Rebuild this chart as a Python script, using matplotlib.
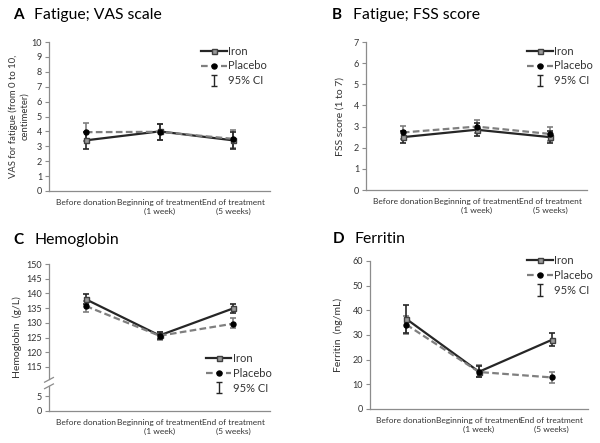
import numpy as np
import matplotlib
matplotlib.use('Agg')
import matplotlib.pyplot as plt

plt.rcParams['font.family'] = ['Lato', 'DejaVu Sans']

# Data
timepoints = ['Before donation', 'Beginning of treatment\n(1 week)', 'End of treatment\n(5 weeks)']

vas_iron = [3.4, 4.0, 3.4]
vas_iron_lo = [2.85, 3.45, 2.85]
vas_iron_hi = [3.95, 4.5, 3.95]
vas_placebo = [3.95, 3.97, 3.5]
vas_placebo_lo = [3.35, 3.42, 2.9]
vas_placebo_hi = [4.55, 4.52, 4.12]

fss_iron = [2.5, 2.85, 2.5]
fss_iron_lo = [2.22, 2.55, 2.2]
fss_iron_hi = [2.78, 3.15, 2.8]
fss_placebo = [2.72, 3.0, 2.65]
fss_placebo_lo = [2.42, 2.68, 2.32]
fss_placebo_hi = [3.02, 3.32, 3.0]

hb_iron = [138.0, 125.7, 134.9]
hb_iron_lo = [136.3, 124.5, 133.3]
hb_iron_hi = [139.8, 126.9, 136.5]
hb_placebo = [135.7, 125.6, 129.7]
hb_placebo_lo = [133.7, 124.1, 128.1]
hb_placebo_hi = [137.4, 127.0, 131.5]

fer_iron = [36.5, 15.1, 28.0]
fer_iron_lo = [31.0, 13.1, 25.7]
fer_iron_hi = [42.0, 17.6, 30.7]
fer_placebo = [34.2, 15.0, 12.8]
fer_placebo_lo = [30.4, 13.0, 10.7]
fer_placebo_hi = [37.8, 17.8, 15.1]

IRON_C = '#262626'
PLAC_C = '#7f7f7f'
SPINE_C = '#8c8c8c'
TEXT_C = '#333333'

fig = plt.figure(figsize=(6, 4.43), dpi=100)


def draw(ax, iron, ilo, ihi, plac, plo, phi, shift=0.0):
    x = np.arange(len(timepoints))
    iron = np.array(iron) - shift
    plac = np.array(plac) - shift
    ilo = np.array(ilo) - shift
    ihi = np.array(ihi) - shift
    plo = np.array(plo) - shift
    phi = np.array(phi) - shift
    ax.errorbar(x, plac, yerr=[plac - plo, phi - plac], fmt='none', ecolor=PLAC_C,
                elinewidth=1.2, capsize=2.5, capthick=1.2, zorder=2)
    ax.errorbar(x, iron, yerr=[iron - ilo, ihi - iron], fmt='none', ecolor=IRON_C,
                elinewidth=1.2, capsize=2.5, capthick=1.2, zorder=2)
    ax.plot(x, iron, color=IRON_C, lw=1.6, marker='s', ms=3.6, mfc='#9a9a9a',
            mec='#404040', mew=1, zorder=3, label='Iron')
    ax.plot(x, plac, color=PLAC_C, lw=1.6, ls=(0, (3, 1.5)), marker='o', ms=3.6,
            mfc='black', mec='black', zorder=4, label='Placebo')
    # legend-only handle for the CI symbol
    ax.errorbar([np.nan], [np.nan], yerr=[1], fmt='none', ecolor=IRON_C, elinewidth=1,
                capsize=2.5, capthick=1, label='95% CI')
    ax.set_xlim(-0.5, 2.5)
    ax.set_xticks(x)
    ax.set_xticklabels(timepoints, fontsize=6, color=TEXT_C, linespacing=1.25)
    ax.tick_params(axis='x', length=0, pad=6)
    ax.tick_params(axis='y', labelsize=6.5, labelcolor=TEXT_C, color=SPINE_C,
                   length=3, width=0.8, pad=2)
    for s in ['top', 'right']:
        ax.spines[s].set_visible(False)
    for s in ['left', 'bottom']:
        ax.spines[s].set_color(SPINE_C)
        ax.spines[s].set_linewidth(0.9)


def add_legend(ax, anchor):
    ax.legend(loc='upper left', bbox_to_anchor=anchor, frameon=False, fontsize=8,
              labelcolor=TEXT_C, handlelength=2.3, handletextpad=0.1,
              labelspacing=0.35, borderpad=0, borderaxespad=0)


def panel_title(x, y, letter, text):
    fig.text(x, 1 - y / 443, letter, fontsize=11, fontweight='bold', va='center', ha='left')
    fig.text(x + 21 / 600, 1 - y / 443, text, fontsize=11.3, va='center', ha='left')


# A: VAS
axA = fig.add_axes([49 / 600, 1 - 191 / 443, 221 / 600, 149 / 443])
draw(axA, vas_iron, vas_iron_lo, vas_iron_hi, vas_placebo, vas_placebo_lo, vas_placebo_hi)
axA.set_ylim(0, 10)
axA.set_yticks(range(0, 11))
axA.set_ylabel('VAS for fatigue (from 0 to 10,\ncentimeter)', fontsize=6.8, color=TEXT_C,
               labelpad=2, linespacing=1.3)
add_legend(axA, (0.69, 0.976))
panel_title(13 / 600, 15, 'A', 'Fatigue; VAS scale')

# B: FSS
axB = fig.add_axes([366 / 600, 1 - 190 / 443, 221 / 600, 148 / 443])
draw(axB, fss_iron, fss_iron_lo, fss_iron_hi, fss_placebo, fss_placebo_lo, fss_placebo_hi)
axB.set_ylim(0, 7)
axB.set_yticks(range(0, 8))
axB.set_ylabel('FSS score (1 to 7)', fontsize=7.5, color=TEXT_C, labelpad=7)
add_legend(axB, (0.73, 0.976))
panel_title(332 / 600, 15, 'B', 'Fatigue; FSS score')

# C: Hemoglobin with broken axis (values shifted by 100 above the break)
axC = fig.add_axes([49 / 600, 1 - 411 / 443, 221 / 600, 147 / 443])
draw(axC, hb_iron, hb_iron_lo, hb_iron_hi, hb_placebo, hb_placebo_lo, hb_placebo_hi, shift=100)
axC.set_ylim(0, 50)
axC.set_yticks([0, 5] + list(range(15, 51, 5)))
axC.set_yticklabels(['0', '5'] + [str(v) for v in range(115, 151, 5)])
axC.spines['left'].set_visible(False)
ytr = axC.get_yaxis_transform()
axC.plot([0, 0], [0, 8.6], transform=ytr, color=SPINE_C, lw=0.9, clip_on=False)
axC.plot([0, 0], [10.9, 50], transform=ytr, color=SPINE_C, lw=0.9, clip_on=False)
axC.plot([-0.02, 0.02], [9.8, 11.4], transform=ytr, color=SPINE_C, lw=0.9, clip_on=False)
axC.plot([-0.02, 0.02], [7.6, 9.2], transform=ytr, color=SPINE_C, lw=0.9, clip_on=False)
axC.set_ylabel('Hemoglobin  (g/L)', fontsize=7.5, color=TEXT_C, labelpad=3)
add_legend(axC, (0.71, 0.396))
panel_title(13 / 600, 240, 'C', 'Hemoglobin')

# D: Ferritin
axD = fig.add_axes([370 / 600, 1 - 409 / 443, 218 / 600, 148 / 443])
draw(axD, fer_iron, fer_iron_lo, fer_iron_hi, fer_placebo, fer_placebo_lo, fer_placebo_hi)
axD.set_ylim(0, 60)
axD.set_yticks(range(0, 61, 10))
axD.set_ylabel('Ferritin  (ng/mL)', fontsize=7.5, color=TEXT_C, labelpad=7)
add_legend(axD, (0.72, 1.04))
panel_title(333 / 600, 239, 'D', 'Ferritin')

fig.savefig('out.png', dpi=100)
